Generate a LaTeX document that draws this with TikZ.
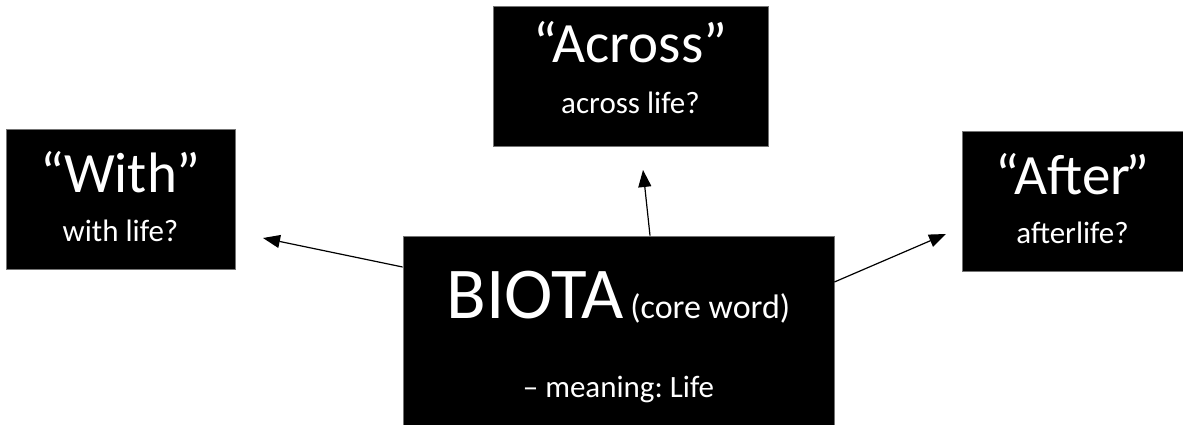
\documentclass[tikz,border=0pt]{standalone}
\usepackage{fontspec}
\setmainfont{Carlito}
\usetikzlibrary{arrows.meta}
\frenchspacing

\tikzset{
    wordbox/.style={rectangle, fill=black, draw=black!55, line width=0.8pt,
        text=white, align=center, inner sep=0pt},
    arr/.style={-{Triangle[length=17pt,width=13pt]}, line width=1.2pt}
}

\begin{document}
\begin{tikzpicture}[x=1pt,y=-1pt]
    \useasboundingbox (0,0) rectangle (1183,425);

    \node[wordbox, minimum width=229pt, minimum height=140pt] (with) at (120.5,199)
        {\fontsize{57}{57}\selectfont “With”\\[26pt]
         \fontsize{31}{31}\selectfont with life?\rule[-5pt]{0pt}{0pt}};
    \node[wordbox, minimum width=275pt, minimum height=140pt] (across) at (630.5,76)
        {\fontsize{57}{57}\selectfont “Across”\\[28pt]
         \fontsize{31}{31}\selectfont across life?\rule[-18pt]{0pt}{0pt}};
    \node[wordbox, minimum width=221pt, minimum height=140pt] (after) at (1072.5,201)
        {\fontsize{57}{57}\selectfont “After\kern-5pt”\\[26pt]
         \fontsize{31}{31}\selectfont afterlife?\rule[-5pt]{0pt}{0pt}};
    \node[wordbox, minimum width=431pt, minimum height=202pt] (biota) at (618.5,337)
        {\fontsize{73}{73}\selectfont BIOTA\kern7pt\fontsize{34}{34}\selectfont (core word)\\[52pt]
         \fontsize{31}{31}\selectfont – meaning: Life};

    % free ends of the arrows
    \coordinate (withtip) at (263,238);
    \coordinate (acrosstip) at (643,170);
    \coordinate (aftertip) at (946,234);

    \draw[arr] ([yshift=70pt]biota.west) -- (withtip);
    \draw[arr] ([xshift=31.5pt]biota.north) -- (acrosstip);
    \draw[arr] ([yshift=55pt]biota.east) -- (aftertip);
\end{tikzpicture}
\end{document}
